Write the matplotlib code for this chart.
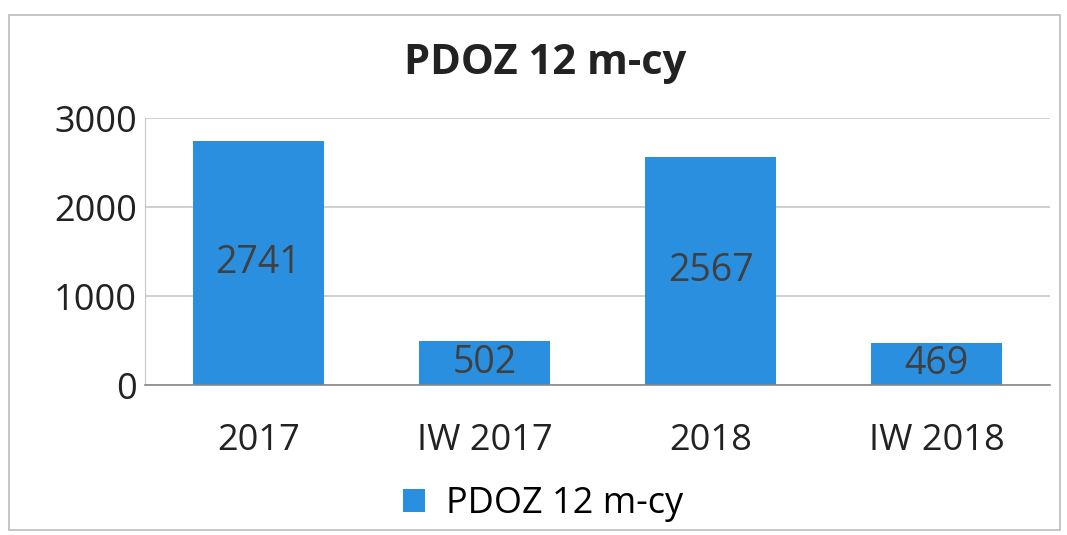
import matplotlib.pyplot as plt
from matplotlib.patches import Rectangle

categories = ['2017', 'IW 2017', '2018', 'IW 2018']
values = [2741, 502, 2567, 469]
series_name = 'PDOZ 12 m-cy'
yticks = [0, 1000, 2000, 3000]

bar_color = '#2b8fe0'
plt.rcParams['font.family'] = ['Open Sans', 'DejaVu Sans']

fig = plt.figure(figsize=(10.67, 5.35), dpi=100)
ax = fig.add_axes([0.136, 0.280, 0.848, 0.499])

bars = ax.bar(categories, values, width=0.58, color=bar_color, label=series_name, zorder=2)
for rect, v in zip(bars, values):
    ax.text(rect.get_x() + rect.get_width() / 2, v / 2, str(v),
            ha='center', va='center', fontsize=27, color='#404040', zorder=3)

ax.set_ylim(0, 3000)
ax.set_xlim(-0.5, len(categories) - 0.5)
ax.set_yticks(yticks)
ax.tick_params(axis='both', length=0, labelsize=26, colors='#222222', pad=6)
ax.tick_params(axis='x', pad=27)
ax.grid(axis='y', color='#c8c8c8', linewidth=1.2, zorder=0)
for side in ['top', 'right']:
    ax.spines[side].set_visible(False)
ax.spines['left'].set_color('#c8c8c8')
ax.spines['bottom'].set_color('#888888')
ax.spines['bottom'].set_linewidth(1.2)

fig.text(0.511, 0.882, series_name, ha='center', va='center',
         fontsize=30, fontweight='bold', color='#222222')

ax.legend(loc='upper center', bbox_to_anchor=(0.44, -0.255), frameon=False,
          fontsize=26, handlelength=0.6, handleheight=0.6, handletextpad=0.6)

# outer chart frame (scanned border)
fig.patches.append(Rectangle((0.008, 0.01), 0.985, 0.962, transform=fig.transFigure,
                             fill=False, edgecolor='#bbbbbb', linewidth=1.2))

fig.savefig('out.png', dpi=100)
